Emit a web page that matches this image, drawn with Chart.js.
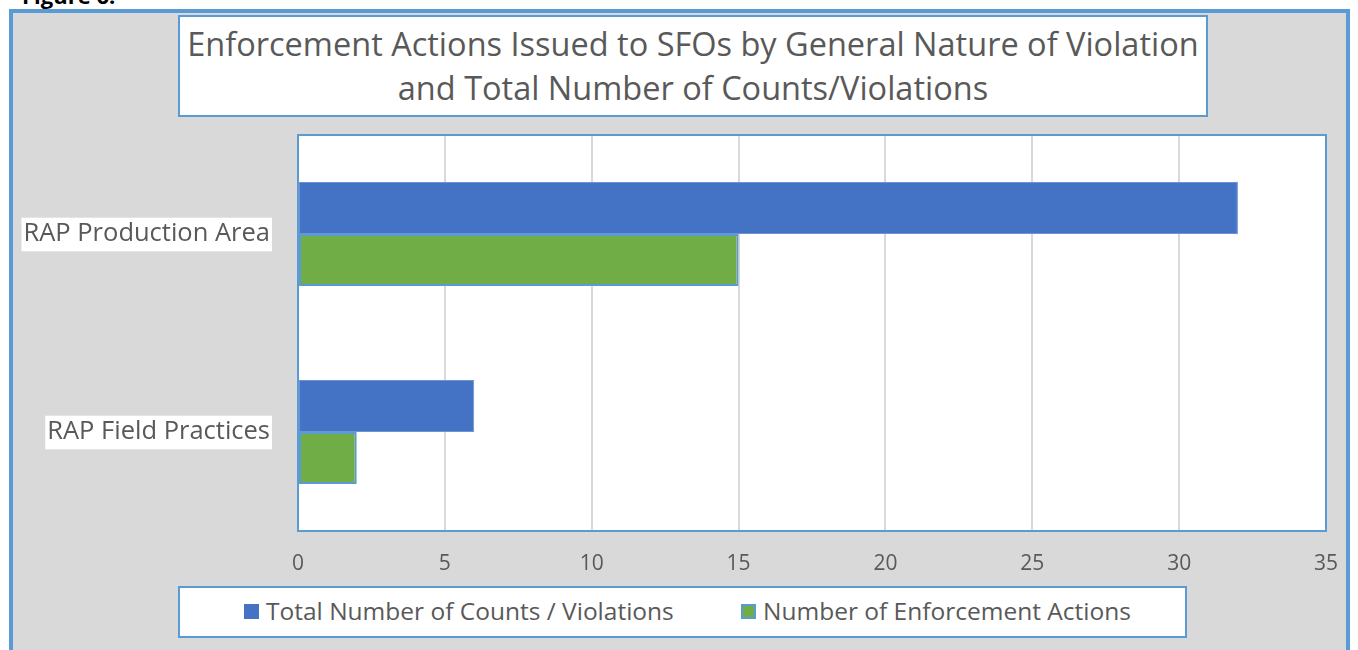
<!DOCTYPE html>
<html>
<head>
<meta charset="utf-8">
<script src="https://cdn.jsdelivr.net/npm/chart.js@4"></script>
<style>
  html, body { margin: 0; padding: 0; background: #fff; overflow: hidden; }
  body { width: 1358px; height: 650px; position: relative; font-family: "Open Sans", sans-serif; }
  #fig { position: absolute; left: 22px; top: -20px; font: bold 22px "Open Sans", sans-serif; color: #000; }
  #frame { position: absolute; left: 9px; top: 9px; width: 1341px; height: 660px;
           background: #d9d9d9; border: 4px solid #5b9bd5; box-sizing: border-box; }
  #title { position: absolute; left: 178px; top: 15px; width: 1030px; height: 102px;
           background: #fff; border: 2px solid #5b9bd5; box-sizing: border-box;
           color: #595959; font-size: 32.5px; line-height: 44px; text-align: center; padding-top: 5px; }
  #legend { position: absolute; left: 178px; top: 586px; width: 1009px; height: 52px;
            background: #fff; border: 2px solid #5b9bd5; box-sizing: border-box;
            color: #595959; font-size: 24.5px; }
  #legend span.item { position: absolute; top: 6px; white-space: nowrap; }
  #legend i { display: inline-block; width: 15px; height: 15px; margin-right: 7px; box-sizing: border-box; vertical-align: 1px; }
  #wrap { position: absolute; left: 0; top: 0; width: 1358px; height: 650px; }
</style>
</head>
<body>
<div id="fig">Figure 6.</div>
<div id="frame"></div>
<div id="title">Enforcement Actions Issued to SFOs by General Nature of Violation<br>and Total Number of Counts/Violations</div>
<div id="wrap"><canvas id="chart" width="1358" height="650"></canvas></div>
<div id="legend"></div>
<script>
const categories = ['RAP Production Area', 'RAP Field Practices'];
const totalCounts = [32, 6];
const enforcementActions = [15, 2];
const seriesNames = ['Total Number of Counts / Violations', 'Number of Enforcement Actions'];
const xTicks = [0, 5, 10, 15, 20, 25, 30, 35];

// white plot area with blue frame
const plotFrame = {
  id: 'plotFrame',
  beforeDraw(chart) {
    const a = chart.chartArea, ctx = chart.ctx;
    ctx.save();
    ctx.fillStyle = '#fff';
    ctx.fillRect(a.left, a.top, a.right - a.left, a.bottom - a.top);
    ctx.restore();
  },
  afterDraw(chart) {
    const a = chart.chartArea, ctx = chart.ctx;
    ctx.save();
    ctx.strokeStyle = '#5b9bd5';
    ctx.lineWidth = 2;
    ctx.strokeRect(a.left, a.top, a.right - a.left, a.bottom - a.top);
    ctx.restore();
  }
};

// legend built from the chart's own labels
const htmlLegend = {
  id: 'htmlLegend',
  afterUpdate(chart) {
    const box = document.getElementById('legend');
    box.innerHTML = '';
    const items = chart.options.plugins.legend.labels.generateLabels(chart);
    const lefts = [64, 561];
    items.forEach((item, i) => {
      const s = document.createElement('span');
      s.className = 'item';
      s.style.left = lefts[i] + 'px';
      const sw = document.createElement('i');
      sw.style.background = item.fillStyle;
      if (i === 1) sw.style.border = '2px solid #5b9bd5';
      s.appendChild(sw);
      s.appendChild(document.createTextNode(item.text));
      box.appendChild(s);
    });
  }
};

new Chart(document.getElementById('chart'), {
  type: 'bar',
  data: {
    labels: categories,
    datasets: [{
      label: seriesNames[0],
      data: totalCounts,
      backgroundColor: '#4472c4',
      borderColor: '#6d93d4',
      borderWidth: 1,
      borderSkipped: false
    }, {
      label: seriesNames[1],
      data: enforcementActions,
      backgroundColor: '#70ad47',
      borderColor: '#5b9bd5',
      borderWidth: 2,
      borderSkipped: false
    }]
  },
  options: {
    indexAxis: 'y',
    responsive: false,
    animation: false,
    devicePixelRatio: 1,
    layout: { padding: { left: 0, right: 32, top: 135, bottom: 0 } },
    datasets: { bar: { barPercentage: 1, categoryPercentage: 0.525 } },
    scales: {
      x: {
        min: 0, max: 35,
        afterBuildTicks: s => { s.ticks = xTicks.map(v => ({ value: v })); },
        afterFit: s => { s.height = 119; },
        grid: { color: '#d9d9d9', lineWidth: 2, drawTicks: false },
        border: { display: false },
        ticks: { color: '#595959', font: { family: 'Open Sans', size: 21 }, padding: 20 }
      },
      y: {
        afterFit: s => { s.width = 298; },
        grid: { display: false, drawTicks: false },
        border: { display: false },
        ticks: {
          color: '#595959',
          font: { family: 'Open Sans', size: 25.5 },
          padding: 28,
          showLabelBackdrop: true,
          backdropColor: '#fff',
          backdropPadding: { top: 1, bottom: 2, left: 2, right: 2 }
        }
      }
    },
    plugins: {
      legend: { display: false },
      title: { display: false },
      tooltip: { enabled: false }
    }
  },
  plugins: [plotFrame, htmlLegend]
});
</script>
</body>
</html>
